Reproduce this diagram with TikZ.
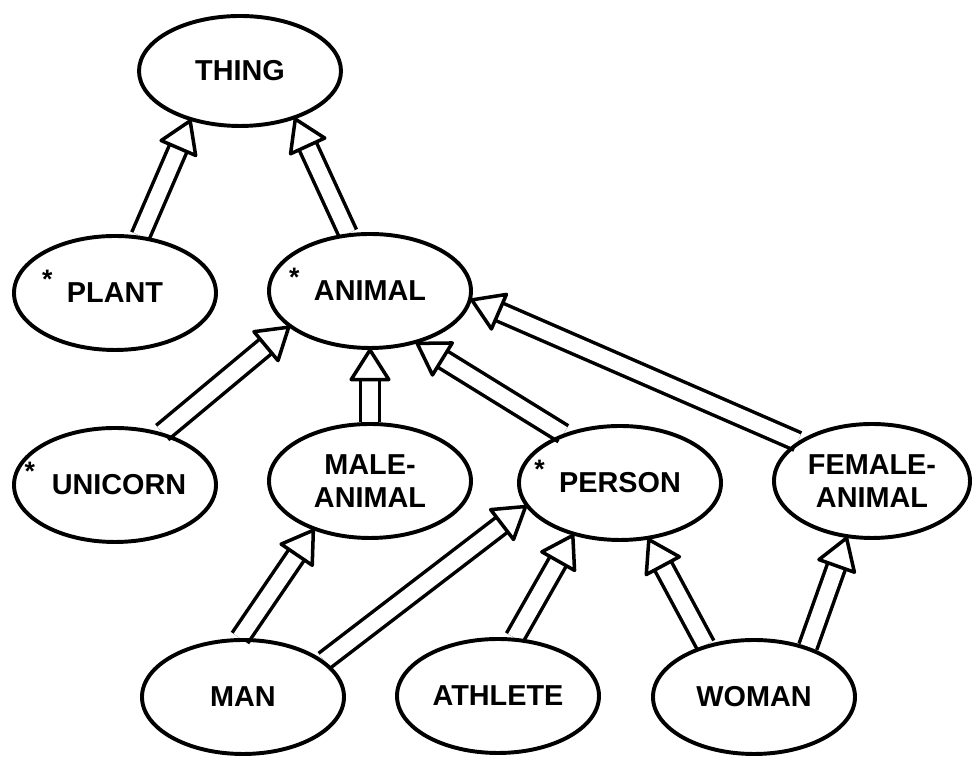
\documentclass[tikz,border=0pt]{standalone}
\usepackage{fontspec}
\setmainfont{Liberation Sans}
\usetikzlibrary{shapes.geometric, calc, backgrounds}

% hollow is-a arrow: double shaft and open triangular head
\newcommand{\isa}[2]{%
  \coordinate (hb) at ($(#2)!0.74cm!(#1)$);
  \draw[shaft] (#1) -- (hb);
  \draw[head] (#2) -- ($(hb)!0.47cm!90:(#2)$) -- ($(hb)!0.47cm!-90:(#2)$) -- cycle;
}
% asterisk in front of a concept name
\newcommand{\marked}[1][.5em]{\llap{\smash{\raisebox{.5em}{\fontsize{19}{19}\selectfont *}}\hspace{#1}}}

\begin{document}
\begin{tikzpicture}[
    concept/.style={ellipse, draw, line width=2.8pt, minimum width=5.05cm, minimum height=2.85cm,
                    inner sep=0pt, align=center, font=\fontsize{20.5}{23}\selectfont\bfseries},
    shaft/.style={line width=2.5pt, double, double distance=0.38cm},
    head/.style={line width=2.5pt, fill=white, line join=round}
]
    \useasboundingbox (0,0) rectangle (24.35,18.975);
    % Concepts
    \node[concept, minimum height=2.75cm] (thing) at (6.0,17.2) {THING};
    \node[concept] (plant) at (2.875,11.65) {\marked PLANT};
    \node[concept] (animal) at (9.25,11.7) {\marked ANIMAL};
    \node[concept] (unicorn) at (2.875,6.85) {\marked[.3em] UNICORN};
    \node[concept] (maleanimal) at (9.25,6.95) {MALE-\\ANIMAL};
    \node[concept] (person) at (15.5,6.9) {\marked PERSON};
    \node[concept, minimum width=4.9cm] (femaleanimal) at (21.8,6.95) {FEMALE-\\ANIMAL};
    \node[concept] (man) at (6.075,1.55) {MAN};
    \node[concept] (athlete) at (12.45,1.575) {ATHLETE};
    \node[concept] (woman) at (18.85,1.55) {WOMAN};
    % Is-a links
    \begin{scope}[on background layer]
        \isa{plant.66}{thing.225}
        \isa{animal.111}{thing.319}
        \isa{unicorn.48}{animal.204}
        \isa{maleanimal.90}{animal.270}
        \isa{person.139}{animal.312}
        \isa{femaleanimal.152}{animal.355}
        \isa{man.93}{maleanimal.221}
        \isa{man.24}{person.194}
        \isa{athlete.74}{person.228}
        \isa{woman.133}{person.297}
        \isa{woman.43}{femaleanimal.246}
    \end{scope}
\end{tikzpicture}
\end{document}
